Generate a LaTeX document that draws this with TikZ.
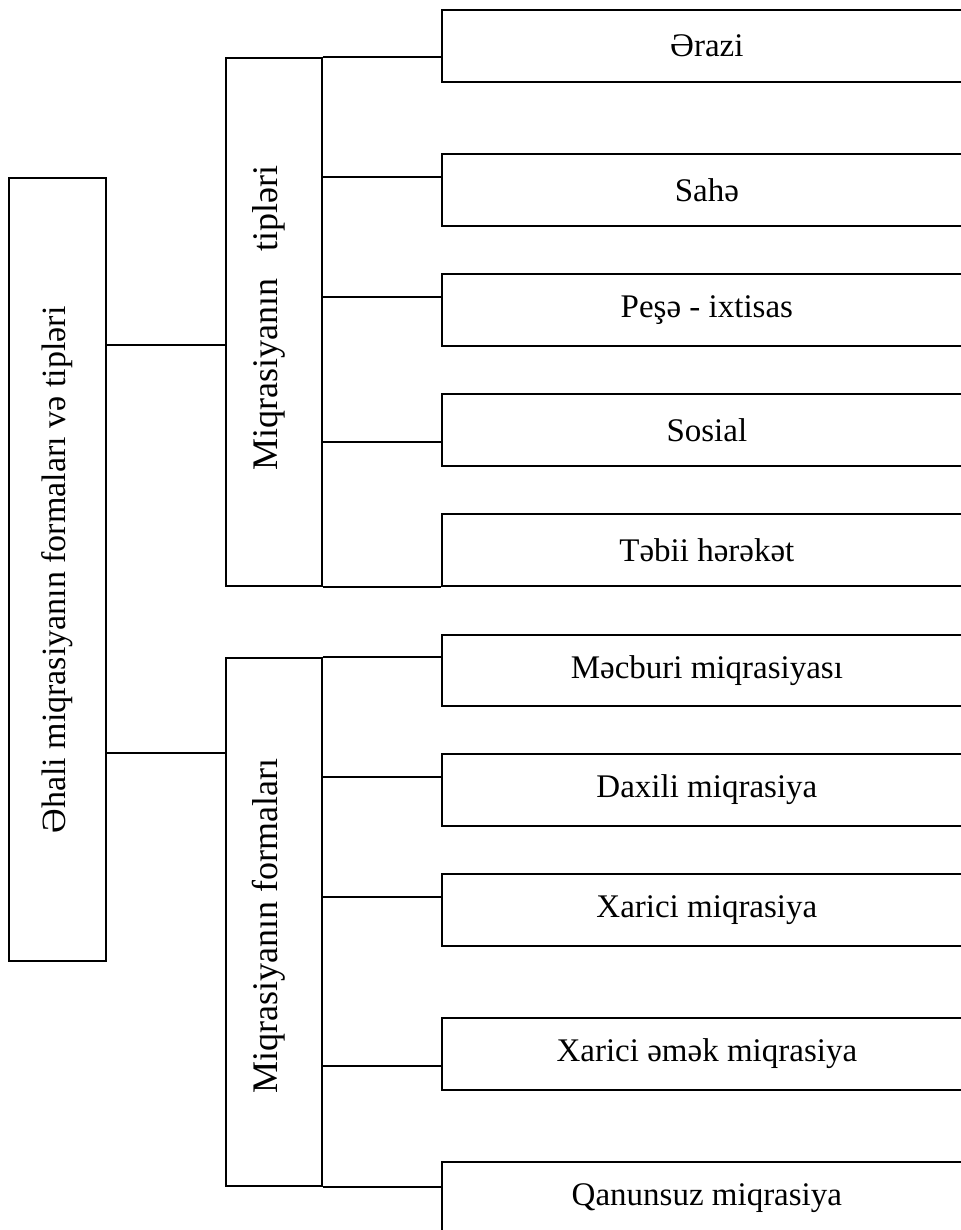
\documentclass[tikz,border=0pt]{standalone}
\usepackage{fontspec}
\setmainfont{Liberation Serif}
\begin{document}
\begin{tikzpicture}[x=1pt,y=-1pt,
  ln/.style={line width=1.7pt,black},
  bx/.style={draw,ln,rectangle,inner sep=0pt,anchor=north west},
  lbl/.style={font=\fontsize{33}{38}\selectfont},
  llbl/.style={font=\fontsize{34}{40}\selectfont,rotate=90},
  mlbl/.style={font=\fontsize{36}{42}\selectfont,rotate=90}]
\useasboundingbox (0,0) rectangle (960,1230);
% left box
\node[bx,minimum width=97pt,minimum height=783pt] (L) at (8,177) {};
\node[llbl] at (57,570) {Əhali miqrasiyanın formaları və tipləri};
% middle boxes
\node[bx,minimum width=96pt,minimum height=528pt] (m1) at (225,57) {};
\node[mlbl] at (269,318) {Miqrasiyanın\ \ \ tipləri};
\node[bx,minimum width=96pt,minimum height=528pt] (m2) at (225,657) {};
\node[mlbl] at (269,926) {Miqrasiyanın formaları};
% right boxes
\node[bx,minimum width=530pt,minimum height=72pt,lbl] (r1) at (441,9) {Ərazi};
\node[bx,minimum width=530pt,minimum height=72pt,lbl] (r2) at (441,153) {Sahə};
\node[bx,minimum width=530pt,minimum height=72pt,lbl] (r3) at (441,273) {Peşə - ixtisas};
\node[bx,minimum width=530pt,minimum height=72pt,lbl] (r4) at (441,393) {Sosial};
\node[bx,minimum width=530pt,minimum height=72pt,lbl] (r5) at (441,513) {Təbii hərəkət};
\node[bx,minimum width=530pt,minimum height=71pt,lbl] (s1) at (441,634) {Məcburi miqrasiyası};
\node[bx,minimum width=530pt,minimum height=72pt,lbl] (s2) at (441,753) {Daxili miqrasiya};
\node[bx,minimum width=530pt,minimum height=72pt,lbl] (s3) at (441,873) {Xarici miqrasiya};
\node[bx,minimum width=530pt,minimum height=72pt,lbl] (s4) at (441,1017) {Xarici əmək miqrasiya};
\node[bx,minimum width=530pt,minimum height=72pt,lbl] (s5) at (441,1161) {Qanunsuz miqrasiya};
% connectors left -> middle
\coordinate (c1) at (105,345);
\coordinate (c2) at (105,753);
\draw[ln] (c1) -- (c1 -| m1.west);
\draw[ln] (c2) -- (c2 -| m2.west);
% upper group connectors
\draw[ln] (m1.north east) -- (m1.north east -| r1.west);
\coordinate (u2) at (321,177);
\coordinate (u3) at (321,297);
\coordinate (u4) at (321,442);
\draw[ln] (u2) -- (u2 -| r2.west);
\draw[ln] (u3) -- (u3 -| r3.west);
\draw[ln] (u4) -- (u4 -| r4.west);
\draw[ln] (m1.south east) -- (m1.south east -| r5.west);
% lower group connectors
\draw[ln] (m2.north east) -- (m2.north east -| s1.west);
\coordinate (v2) at (321,777);
\coordinate (v3) at (321,897);
\coordinate (v4) at (321,1066);
\draw[ln] (v2) -- (v2 -| s2.west);
\draw[ln] (v3) -- (v3 -| s3.west);
\draw[ln] (v4) -- (v4 -| s4.west);
\draw[ln] (m2.south east) -- (m2.south east -| s5.west);
\end{tikzpicture}
\end{document}
